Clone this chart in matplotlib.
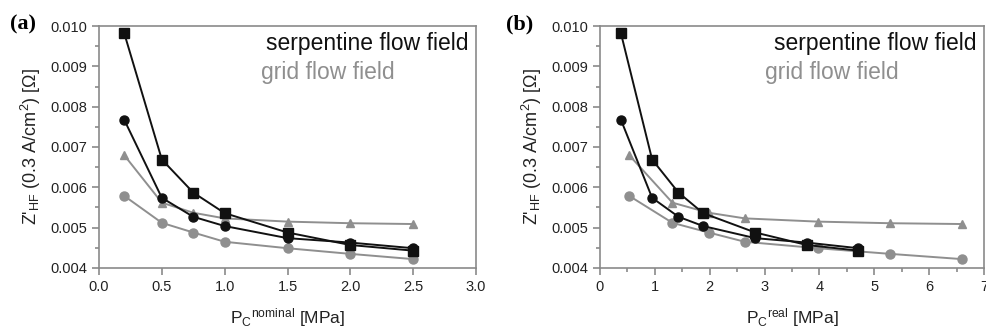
import numpy as np
import matplotlib
matplotlib.use("Agg")
import matplotlib.pyplot as plt
from matplotlib.ticker import MultipleLocator, FormatStrFormatter

plt.rcParams['font.family'] = ['Liberation Sans', 'DejaVu Sans']
plt.rcParams['mathtext.fontset'] = 'custom'
plt.rcParams['mathtext.rm'] = 'Liberation Sans'
plt.rcParams['mathtext.it'] = 'Liberation Sans:italic'

# Pressure values (MPa)
p_nominal = [0.2, 0.5, 0.75, 1.0, 1.5, 2.0, 2.5]
p_real_serp = [0.38, 0.95, 1.43, 1.88, 2.83, 3.77, 4.71]
p_real_grid = [0.53, 1.32, 1.98, 2.64, 3.97, 5.29, 6.60]

# Z'_HF values (Ohm)
serp_square = [0.00983, 0.00669, 0.00587, 0.00536, 0.00488, 0.00457, 0.00443]
serp_circle = [0.00768, 0.00574, 0.00527, 0.00504, 0.00474, 0.00463, 0.00449]
grid_triangle = [0.00680, 0.00562, 0.00537, 0.00523, 0.00515, 0.00511, 0.00509]
grid_circle = [0.00579, 0.00512, 0.00488, 0.00465, 0.00449, 0.00435, 0.00422]

black = '#111111'
grey = '#8f8f8f'
spine_col = '#8a8a8a'

fig = plt.figure(figsize=(9.87, 3.30), dpi=100)
ax_a = fig.add_axes([0.1003, 0.1879, 0.3820, 0.7333])
ax_b = fig.add_axes([0.6079, 0.1879, 0.3891, 0.7333])


def draw(ax, x_serp, x_grid):
    ax.plot(x_grid, grid_triangle, color=grey, marker='^', ms=6, lw=1.4)
    ax.plot(x_grid, grid_circle, color=grey, marker='o', ms=6.5, lw=1.4)
    ax.plot(x_serp, serp_circle, color=black, marker='o', ms=6.5, lw=1.4)
    ax.plot(x_serp, serp_square, color=black, marker='s', ms=6.5, lw=1.4)
    ax.set_ylim(0.004, 0.010)
    ax.yaxis.set_major_locator(MultipleLocator(0.001))
    ax.yaxis.set_minor_locator(MultipleLocator(0.0005))
    ax.yaxis.set_major_formatter(FormatStrFormatter('%.3f'))
    for s in ax.spines.values():
        s.set_color(spine_col)
        s.set_linewidth(1.2)
    ax.tick_params(which='both', direction='out', color=spine_col, width=1.2,
                   labelsize=10.5, labelcolor='#222222')
    ax.tick_params(which='major', length=5)
    ax.tick_params(which='minor', length=3)
    ax.set_ylabel(r"Z'$_{\mathrm{HF}}$ (0.3 A/cm$^{2}$) [$\Omega$]", fontsize=13,
                  color='#222222', labelpad=5)
    ax.text(0.98, 0.975, 'serpentine flow field', transform=ax.transAxes,
            ha='right', va='top', fontsize=16.5, color=black)
    ax.text(0.43, 0.855, 'grid flow field', transform=ax.transAxes,
            ha='left', va='top', fontsize=16.5, color=grey)


draw(ax_a, p_nominal, p_nominal)
ax_a.set_xlim(0, 3.0)
ax_a.xaxis.set_major_locator(MultipleLocator(0.5))
ax_a.xaxis.set_major_formatter(FormatStrFormatter('%.1f'))
ax_a.set_xlabel(r"P$_{\mathrm{C}}{}^{\mathrm{nominal}}$ [MPa]", fontsize=12.5,
                color='#222222', labelpad=9)

draw(ax_b, p_real_serp, p_real_grid)
ax_b.set_xlim(0, 7)
ax_b.xaxis.set_major_locator(MultipleLocator(1))
ax_b.xaxis.set_minor_locator(MultipleLocator(0.5))
ax_b.set_xlabel(r"P$_{\mathrm{C}}{}^{\mathrm{real}}$ [MPa]", fontsize=12.5,
                color='#222222', labelpad=9)

fig.text(0.010, 0.925, '(a)', fontsize=16, fontweight='bold',
         family=['Liberation Serif'], va='center')
fig.text(0.513, 0.925, '(b)', fontsize=16, fontweight='bold',
         family=['Liberation Serif'], va='center')

fig.savefig('out.png', dpi=100)
